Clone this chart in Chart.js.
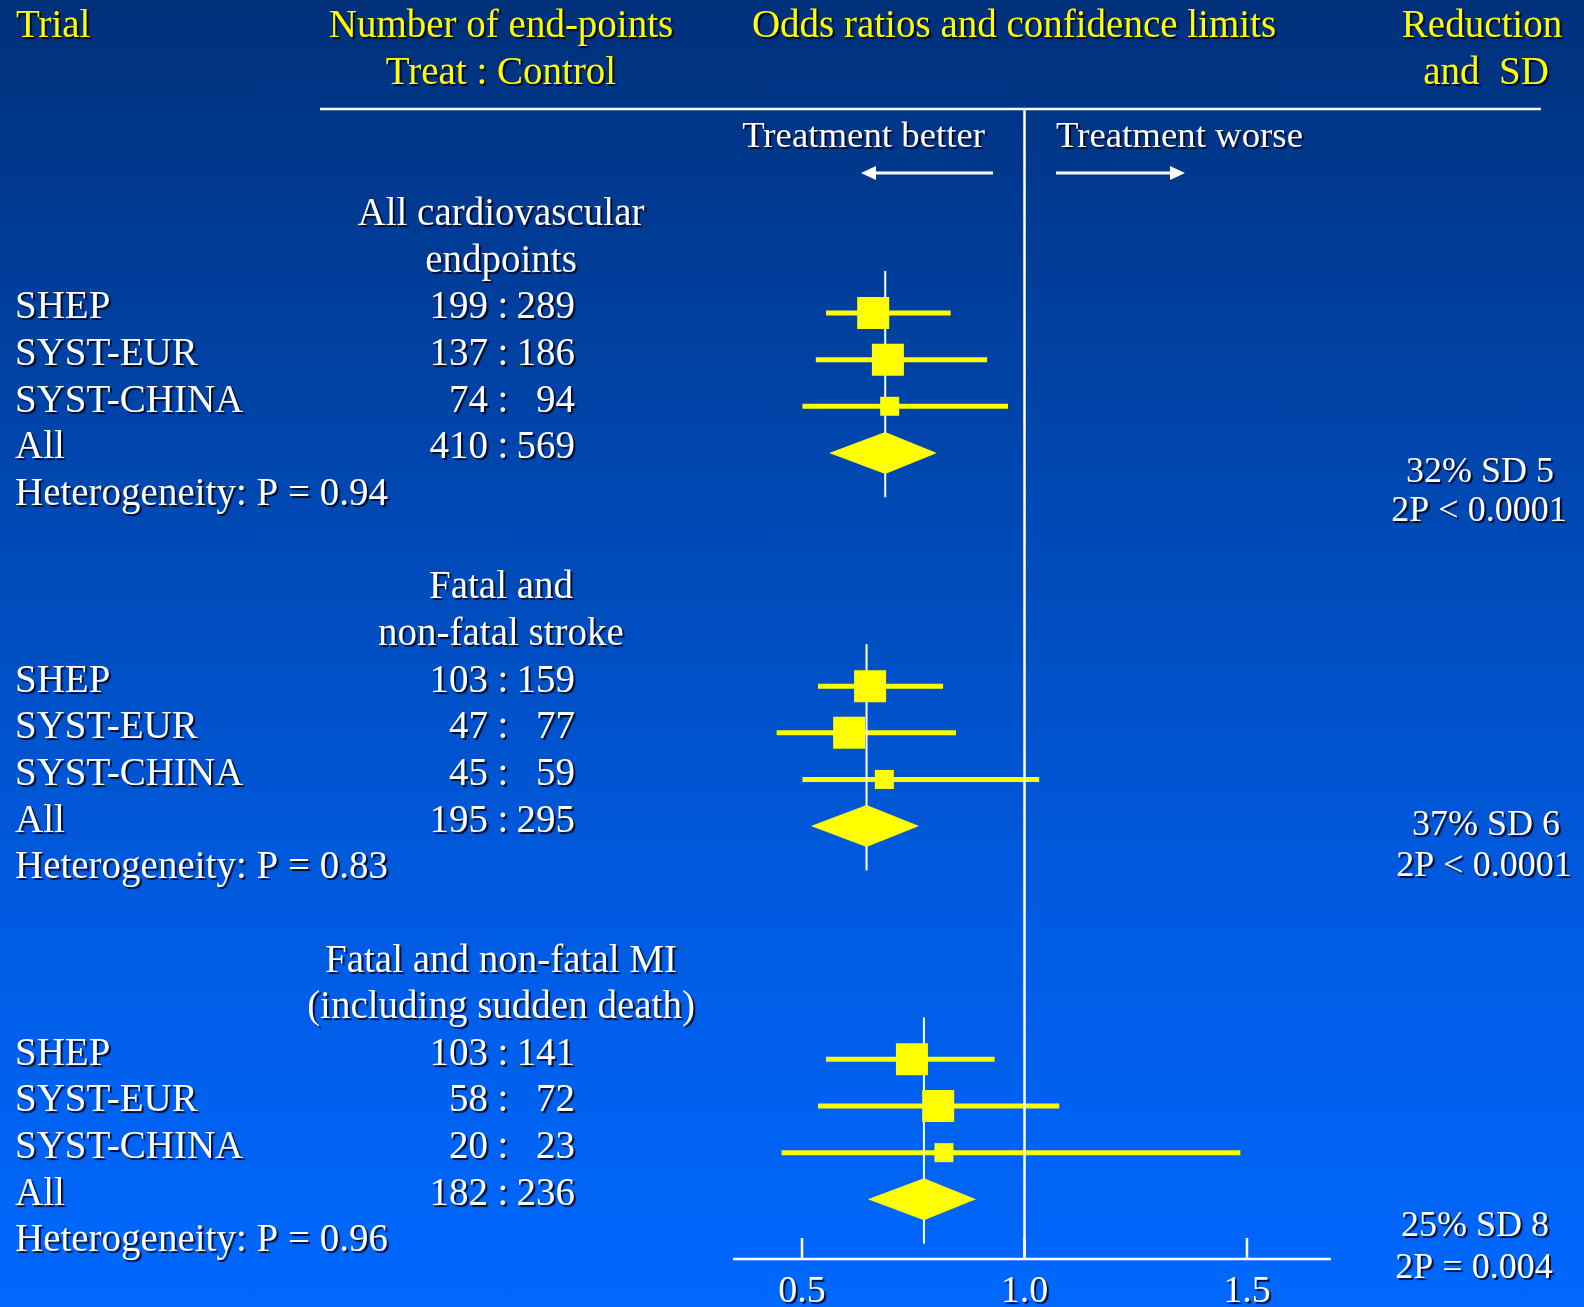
<!DOCTYPE html>
<html>
<head>
<meta charset="utf-8">
<script src="https://cdn.jsdelivr.net/npm/chart.js@4.4.1/dist/chart.umd.min.js"></script>
<style>
  html, body { margin: 0; padding: 0; background: #0050c8; }
  canvas {
    display: block;
    background: linear-gradient(to bottom, #00307a 0%, #0046ae 35%, #005be2 70%, #0068ff 100%);
  }
</style>
</head>
<body>
<canvas id="forest" width="1584" height="1307"></canvas>
<script>
// ---- data ----
const groupTitles = [
  ["All cardiovascular", "endpoints"],
  ["Fatal and", "non-fatal stroke"],
  ["Fatal and non-fatal MI", "(including sudden death)"]
];
const trials = ["SHEP", "SYST-EUR", "SYST-CHINA"];
const treatEvents   = [[199, 137, 74], [103, 47, 45], [103, 58, 20]];
const controlEvents = [[289, 186, 94], [159, 77, 59], [141, 72, 23]];
const totalTreat   = [410, 195, 182];
const totalControl = [569, 295, 236];
const oddsRatio = [[0.660, 0.693, 0.697], [0.653, 0.606, 0.685], [0.747, 0.806, 0.819]];
const lowerCI   = [[0.554, 0.531, 0.501], [0.536, 0.443, 0.501], [0.554, 0.536, 0.454]];
const upperCI   = [[0.834, 0.916, 0.963], [0.817, 0.846, 1.033], [0.933, 1.078, 1.485]];
const pooledOR    = [0.687, 0.645, 0.774];
const pooledLower = [0.561, 0.520, 0.648];
const pooledUpper = [0.803, 0.763, 0.891];
const heterogeneityP = ["0.94", "0.83", "0.96"];
const reductionPct = [32, 37, 25];
const reductionSD  = [5, 6, 8];
const twoP = ["< 0.0001", "< 0.0001", "= 0.004"];
const xTicks = [0.5, 1.0, 1.5];

// ---- layout / style ----
const ROWS_PER_GROUP = 8;            // title(2) + trials(3) + all + heterogeneity + gap
const boxSide = [32, 32, 19];        // square size per trial (px)
const resultRowOffset = [[3.5, 4.34], [3.08, 3.95], [3.67, 4.58]];
const resultCenterX = [[1480, 1479], [1486, 1484], [1475, 1474]];
const YELLOW = "#ffff00";
const WHITE = "#ffffff";
const SERIF = "'Liberation Serif', 'Times New Roman', serif";

const baseRow = g => g * ROWS_PER_GROUP;

const points = [];
const radii = [];
for (let g = 0; g < groupTitles.length; g++) {
  for (let i = 0; i < trials.length; i++) {
    points.push({ x: oddsRatio[g][i], y: baseRow(g) + i });
    radii.push(boxSide[i] / (2 * Math.SQRT1_2));
  }
}

function text(ctx, s, x, y, align, color, size) {
  ctx.save();
  ctx.font = size + "px " + SERIF;
  ctx.textAlign = align;
  ctx.textBaseline = "alphabetic";
  ctx.shadowColor = "rgba(0,0,20,0.85)";
  ctx.shadowOffsetX = 2;
  ctx.shadowOffsetY = 2;
  ctx.shadowBlur = 1;
  ctx.fillStyle = color;
  ctx.fillText(s, x, y);
  ctx.restore();
}

function line(ctx, x1, y1, x2, y2, w, color) {
  ctx.save();
  ctx.strokeStyle = color;
  ctx.lineWidth = w;
  ctx.beginPath();
  ctx.moveTo(x1, y1);
  ctx.lineTo(x2, y2);
  ctx.stroke();
  ctx.restore();
}

function arrow(ctx, xFrom, xTo, y) {
  const dir = Math.sign(xTo - xFrom);
  line(ctx, xFrom, y, xTo - dir * 12, y, 3, WHITE);
  ctx.save();
  ctx.fillStyle = WHITE;
  ctx.beginPath();
  ctx.moveTo(xTo, y);
  ctx.lineTo(xTo - dir * 15, y - 7);
  ctx.lineTo(xTo - dir * 15, y + 7);
  ctx.closePath();
  ctx.fill();
  ctx.restore();
}

const forestPlugin = {
  id: "forest",
  beforeDatasetsDraw(chart) {
    const { ctx, chartArea } = chart;
    const xs = chart.scales.x, ys = chart.scales.y;
    const X = v => xs.getPixelForValue(v);
    const Y = r => ys.getPixelForValue(r);

    // header rule
    line(ctx, 320, chartArea.top, 1541, chartArea.top, 2.5, WHITE);

    // confidence intervals
    for (let g = 0; g < groupTitles.length; g++) {
      for (let i = 0; i < trials.length; i++) {
        const y = Y(baseRow(g) + i);
        line(ctx, X(lowerCI[g][i]), y, X(upperCI[g][i]), y, 5, YELLOW);
      }
      // vertical line through the pooled estimate
      line(ctx, X(pooledOR[g]), Y(baseRow(g) - 0.9), X(pooledOR[g]), Y(baseRow(g) + 3.95), 2, WHITE);
    }

    // line of no effect
    line(ctx, X(1.0), chartArea.top, X(1.0), chartArea.bottom + 1, 2.5, WHITE);

    // x axis
    line(ctx, chartArea.left, chartArea.bottom, chartArea.right, chartArea.bottom, 2.5, WHITE);
    xTicks.forEach(t => {
      line(ctx, X(t), chartArea.bottom, X(t), chartArea.bottom - 21, 2.5, WHITE);
      text(ctx, t.toFixed(1), X(t), chartArea.bottom + 43, "center", WHITE, 38);
    });
  },
  afterDatasetsDraw(chart) {
    const { ctx } = chart;
    const xs = chart.scales.x, ys = chart.scales.y;
    const X = v => xs.getPixelForValue(v);
    const Y = r => ys.getPixelForValue(r);
    const TXT = 5.5;   // baseline offset from row centre

    // pooled diamonds
    for (let g = 0; g < groupTitles.length; g++) {
      const y = Y(baseRow(g) + 3);
      ctx.save();
      ctx.fillStyle = YELLOW;
      ctx.beginPath();
      ctx.moveTo(X(pooledLower[g]), y);
      ctx.lineTo(X(pooledOR[g]), y - 21);
      ctx.lineTo(X(pooledUpper[g]), y);
      ctx.lineTo(X(pooledOR[g]), y + 21);
      ctx.closePath();
      ctx.fill();
      ctx.restore();
    }

    // column headers
    text(ctx, "Trial", 16, 37, "left", YELLOW, 39);
    text(ctx, "Number of end-points", 501, 37, "center", YELLOW, 39);
    text(ctx, "Treat : Control", 501, 84, "center", YELLOW, 39);
    text(ctx, "Odds ratios and confidence limits", 1014, 37, "center", YELLOW, 39);
    text(ctx, "Reduction", 1482, 37, "center", YELLOW, 39);
    text(ctx, "and  SD", 1486, 84, "center", YELLOW, 39);

    // direction labels
    text(ctx, "Treatment better", 985, 147, "right", WHITE, 36.8);
    text(ctx, "Treatment worse", 1056, 147, "left", WHITE, 36.8);
    arrow(ctx, 993, 861, 173);
    arrow(ctx, 1056, 1185, 173);

    // rows
    const counts = (a, b, y) => {
      text(ctx, String(a), 488, y, "right", WHITE, 39);
      text(ctx, ":", 503, y, "center", WHITE, 39);
      text(ctx, String(b), 575, y, "right", WHITE, 39);
    };
    for (let g = 0; g < groupTitles.length; g++) {
      const b = baseRow(g);
      text(ctx, groupTitles[g][0], 501, Y(b - 2) + TXT, "center", WHITE, 39);
      text(ctx, groupTitles[g][1], 501, Y(b - 1) + TXT, "center", WHITE, 39);
      for (let i = 0; i < trials.length; i++) {
        const y = Y(b + i) + TXT;
        text(ctx, trials[i], 15, y, "left", WHITE, 39);
        counts(treatEvents[g][i], controlEvents[g][i], y);
      }
      text(ctx, "All", 15, Y(b + 3) + TXT, "left", WHITE, 39);
      counts(totalTreat[g], totalControl[g], Y(b + 3) + TXT);
      text(ctx, "Heterogeneity: P = " + heterogeneityP[g], 15, Y(b + 4) + TXT, "left", WHITE, 39);

      text(ctx, reductionPct[g] + "% SD " + reductionSD[g], resultCenterX[g][0], Y(b + resultRowOffset[g][0]) + TXT, "center", WHITE, 36);
      text(ctx, "2P " + twoP[g], resultCenterX[g][1], Y(b + resultRowOffset[g][1]) + TXT, "center", WHITE, 36);
    }
  }
};

new Chart(document.getElementById("forest"), {
  type: "scatter",
  data: {
    datasets: [{
      data: points,
      pointStyle: "rect",
      pointRadius: radii,
      pointHoverRadius: radii,
      pointBorderWidth: 0,
      backgroundColor: YELLOW,
      borderColor: YELLOW
    }]
  },
  options: {
    responsive: false,
    animation: false,
    events: [],
    layout: { padding: { left: 733, right: 253, top: 109, bottom: 48 } },
    plugins: { legend: { display: false }, tooltip: { enabled: false } },
    scales: {
      x: { type: "linear", min: 0.3449, max: 1.6888, display: false },
      y: { type: "linear", min: -4.373, max: 20.28, reverse: true, display: false }
    }
  },
  plugins: [forestPlugin]
});
</script>
</body>
</html>
